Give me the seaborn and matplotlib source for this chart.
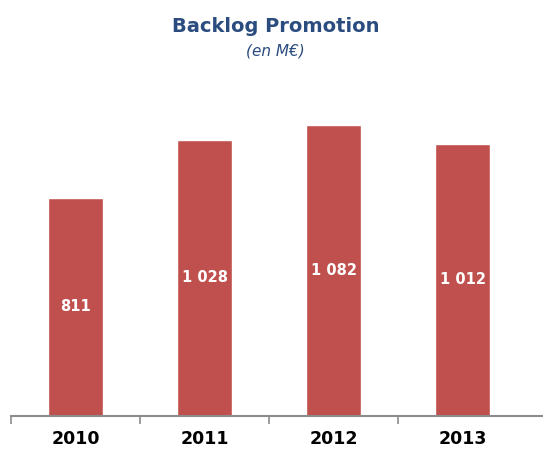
import matplotlib
matplotlib.use("Agg")
import matplotlib.pyplot as plt
import seaborn as sns
import pandas as pd

# données
years = ["2010", "2011", "2012", "2013"]
backlog = [811, 1028, 1082, 1012]
labels = ["811", "1 028", "1 082", "1 012"]

df = pd.DataFrame({"annee": years, "backlog": backlog})

sns.set_style("white")
plt.rcParams['font.family'] = ['DejaVu Sans']

fig = plt.figure(figsize=(5.43, 4.5), dpi=100)
ax = fig.add_axes([11 / 543, 1 - 416 / 450, 532 / 543, (416 - 96) / 450])

sns.barplot(data=df, x="annee", y="backlog", color="#C0504D", saturation=1,
            width=0.43, ax=ax)

# valeurs au centre des barres
for i, (v, lab) in enumerate(zip(backlog, labels)):
    ax.text(i, v / 2, lab, ha="center", va="center", color="white",
            fontsize=10.5, fontweight="bold")

ax.set_xlim(-0.5, 3.624)
ax.set_ylim(0, 1190)
ax.set_yticks([])
ax.set_xlabel("")
ax.set_ylabel("")

# graduations entre les catégories
ax.set_xticks([-0.5, 0.5, 1.5, 2.5], minor=True)
ax.tick_params(axis="x", which="minor", length=6, width=1.2, color="#8C8C8C",
               direction="out", bottom=True)
ax.tick_params(axis="x", which="major", length=0, pad=10, labelsize=12.5,
               labelcolor="black")
for t in ax.get_xticklabels():
    t.set_fontweight("bold")

for s in ["top", "right", "left"]:
    ax.spines[s].set_visible(False)
ax.spines["bottom"].set_color("#8C8C8C")
ax.spines["bottom"].set_linewidth(1.5)

fig.text(0.508, 1 - 27 / 450, "Backlog Promotion", ha="center", va="center",
         fontsize=14, fontweight="bold", color="#2B4C7E")
fig.text(0.508, 1 - 51 / 450, "(en M€)", ha="center", va="center",
         fontsize=11, style="italic", color="#2B4C7E")

fig.savefig("out.png", dpi=100)
